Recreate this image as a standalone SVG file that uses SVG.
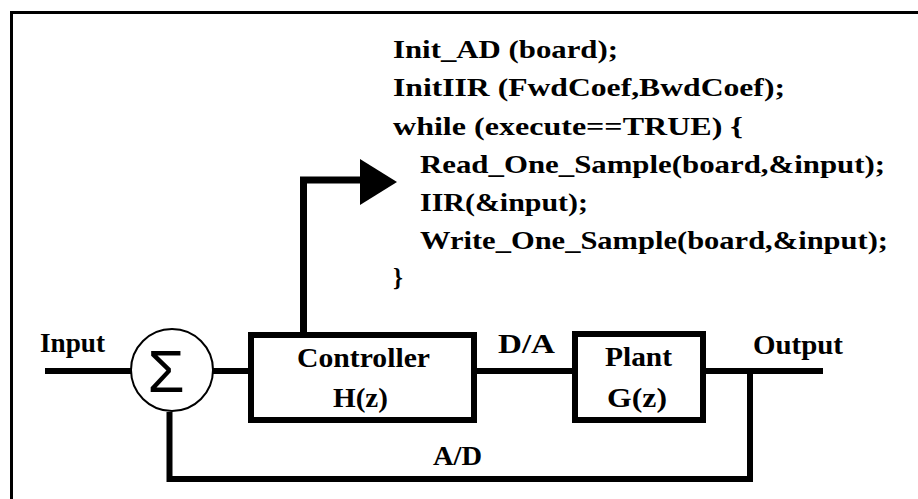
<svg xmlns="http://www.w3.org/2000/svg" width="918" height="499" viewBox="0 0 918 499">
  <style>
    .frame { fill: none; stroke: #000; stroke-width: 3; }
    .box { fill: #fff; stroke: #000; stroke-width: 6; }
    .wire { fill: none; stroke: #000; stroke-width: 6; stroke-linecap: butt; stroke-linejoin: miter; }
    .code { font-family: "Liberation Serif", "DejaVu Serif", serif; font-size: 25px; font-weight: bold; fill: #000; }
    .lbl { font-family: "Liberation Serif", "DejaVu Serif", serif; font-size: 27px; font-weight: bold; fill: #000; }
    .sum { fill: #fff; stroke: #000; stroke-width: 2; }
  </style>
  <rect width="918" height="499" fill="#fff"/>
  <rect class="frame" x="11.5" y="12.5" width="1000" height="1000"/>

  <g id="code">
    <text class="code" x="393" y="58" textLength="225" lengthAdjust="spacingAndGlyphs">Init_AD (board);</text>
    <text class="code" x="393" y="96" textLength="392" lengthAdjust="spacingAndGlyphs">InitIIR (FwdCoef,BwdCoef);</text>
    <text class="code" x="393" y="135" textLength="350" lengthAdjust="spacingAndGlyphs">while (execute==TRUE) {</text>
    <text class="code" x="420" y="173" textLength="465" lengthAdjust="spacingAndGlyphs">Read_One_Sample(board,&amp;input);</text>
    <text class="code" x="420" y="211" textLength="168" lengthAdjust="spacingAndGlyphs">IIR(&amp;input);</text>
    <text class="code" x="420" y="249" textLength="468" lengthAdjust="spacingAndGlyphs">Write_One_Sample(board,&amp;input);</text>
    <text class="code" x="393" y="286">}</text>
  </g>

  <g id="connectors">
    <polyline class="wire" points="45,371 131,371"/>
    <polyline class="wire" points="213,371 248,371"/>
    <polyline class="wire" points="477,371 572,371"/>
    <polyline class="wire" points="706,371 823,371"/>
    <polyline class="wire" points="750,371 750,479 169.5,479 169.5,412"/>
    <polyline class="wire" points="303.5,332 303.5,180 362,180" style="stroke-width:7"/>
    <polygon points="360,159 397,182 360,205" fill="#000"/>
  </g>

  <g id="summer">
    <circle class="sum" cx="172" cy="370" r="41"/>
    <text x="166" y="392" text-anchor="middle" font-family="Liberation Sans, DejaVu Sans, sans-serif" font-size="60" fill="#000">Σ</text>
  </g>

  <g id="controller">
    <rect class="box" x="251" y="335" width="223" height="85"/>
    <text class="lbl" x="297" y="367" textLength="133" lengthAdjust="spacingAndGlyphs">Controller</text>
    <text class="lbl" x="333" y="407" textLength="55" lengthAdjust="spacingAndGlyphs">H(z)</text>
  </g>

  <g id="plant">
    <rect class="box" x="575" y="334" width="128" height="86"/>
    <text class="lbl" x="605" y="366" textLength="67" lengthAdjust="spacingAndGlyphs">Plant</text>
    <text class="lbl" x="607" y="407" textLength="60" lengthAdjust="spacingAndGlyphs">G(z)</text>
  </g>

  <g id="labels">
    <text class="lbl" x="40" y="352" textLength="65" lengthAdjust="spacingAndGlyphs">Input</text>
    <text class="lbl" x="498" y="353" textLength="57" lengthAdjust="spacingAndGlyphs">D/A</text>
    <text class="lbl" x="753" y="354" textLength="90" lengthAdjust="spacingAndGlyphs">Output</text>
    <text class="lbl" x="433" y="465" textLength="49" lengthAdjust="spacingAndGlyphs">A/D</text>
  </g>
</svg>
